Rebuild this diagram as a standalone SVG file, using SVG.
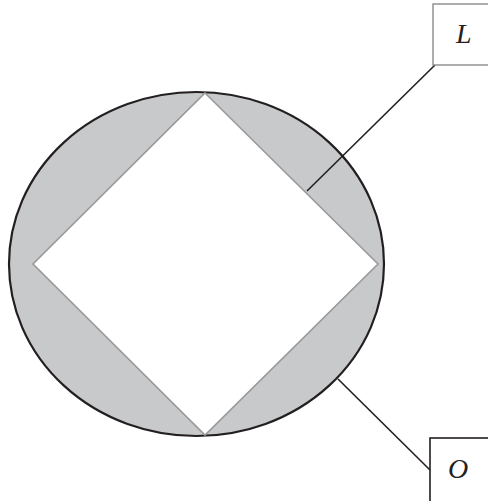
<svg xmlns="http://www.w3.org/2000/svg" width="488" height="501" viewBox="0 0 488 501">
<style>
.lbl{font-family:"Liberation Serif",serif;font-style:italic;font-size:28px;fill:#231f20}
.lead{stroke:#231f20;stroke-width:1.6;fill:none}
</style>
<rect width="488" height="501" fill="#fff"/>
<g id="shape">
<ellipse cx="196.5" cy="264" rx="187.5" ry="172" fill="#c8c9cb" stroke="#231f20" stroke-width="2.2"/>
<polygon points="205,93 378,264 205,435 33,264" fill="#fff" stroke="#9a9a9a" stroke-width="1.6"/>
</g>
<g id="connectors">
<line class="lead" x1="435" y1="65" x2="307" y2="191"/>
<line class="lead" x1="430" y1="470" x2="338" y2="379"/>
</g>
<g id="nodeL">
<rect x="433" y="4" width="60" height="61" fill="#fff" stroke="#8a8a8a" stroke-width="1.4"/>
<text class="lbl" x="456" y="43">L</text>
</g>
<g id="nodeO">
<rect x="430" y="438" width="65" height="70" fill="#fff" stroke="#231f20" stroke-width="1.6"/>
<text class="lbl" x="448" y="478">O</text>
</g>
</svg>
